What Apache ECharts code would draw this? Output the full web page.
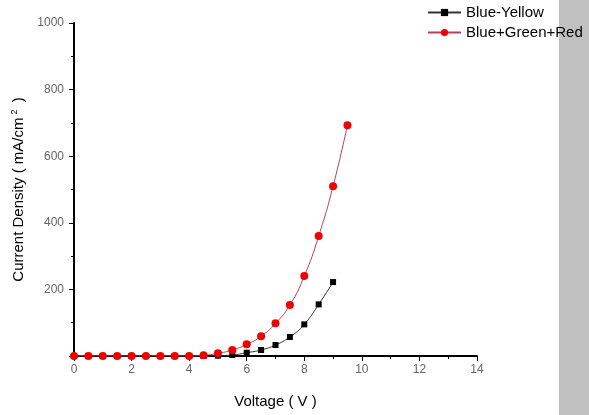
<!DOCTYPE html>
<html>
<head>
<meta charset="utf-8">
<script src="https://cdn.jsdelivr.net/npm/echarts@6/dist/echarts.min.js"></script>
<style>
  html, body { margin: 0; padding: 0; background: #fff; }
  #chart { width: 589px; height: 415px; }
</style>
</head>
<body>
<div id="chart"></div>
<script>
// voltages (V)
const voltage = [0, 0.5, 1, 1.5, 2, 2.5, 3, 3.5, 4, 4.5, 5, 5.5, 6, 6.5, 7, 7.5, 8, 8.5, 9, 9.5]
// current density (mA/cm2)
const blueYellow = [0, 0, 0, 0, 0, 0, 0, 0, 0, 0, 1, 3, 10, 18, 33, 57, 95, 155, 222]
const blueGreenRed = [0, 0, 0, 0, 0, 0, 0, 0, 0, 2, 8, 18, 35, 59, 98, 153, 240, 360, 510, 693]
const seriesNames = ['Blue-Yellow', 'Blue+Green+Red']

function pairs(vals) {
  return vals.map(function (v, i) { return [voltage[i], v] })
}

let myChart = echarts.init(document.getElementById('chart'))
let option = {
  animation: false,
  backgroundColor: '#fff',
  textStyle: { fontFamily: 'Liberation Sans, Arial, sans-serif' },
  graphic: [{
    type: 'rect',
    shape: { x: 559, y: 0, width: 30, height: 415 },
    style: { fill: '#c0c0c0' },
    z: -1
  }],
  legend: {
    orient: 'vertical',
    left: 422,
    top: 0,
    itemWidth: 33,
    itemHeight: 9,
    itemGap: 5,
    data: seriesNames,
    textStyle: { color: '#000', fontSize: 15 }
  },
  grid: { left: 74, right: 112, top: 23, bottom: 59 },
  xAxis: {
    type: 'value',
    min: 0,
    max: 14,
    interval: 2,
    name: 'Voltage ( V )',
    nameLocation: 'middle',
    nameGap: 38,
    nameTextStyle: { color: '#000', fontSize: 15 },
    splitLine: { show: false },
    axisLine: { lineStyle: { color: '#000', width: 2 } },
    axisTick: { length: 5, lineStyle: { color: '#000', width: 1 } },
    minorTick: { show: true, splitNumber: 2, length: 3, lineStyle: { color: '#000' } },
    axisLabel: { color: '#666', fontSize: 12, margin: 8 }
  },
  yAxis: {
    type: 'value',
    min: 0,
    max: 1000,
    interval: 200,
    name: 'Current Density ( mA/cm{sup|2} )',
    nameLocation: 'middle',
    nameGap: 46,
    nameTextStyle: {
      color: '#000',
      fontSize: 15,
      rich: { sup: { fontSize: 9, verticalAlign: 'top', padding: [0, 3, 9, 3] } }
    },
    splitLine: { show: false },
    axisLine: { show: true, lineStyle: { color: '#000', width: 2 } },
    axisTick: { show: true, length: 5, lineStyle: { color: '#000', width: 1 } },
    minorTick: { show: true, splitNumber: 2, length: 3, lineStyle: { color: '#000' } },
    axisLabel: {
      color: '#666',
      fontSize: 12,
      margin: 10,
      formatter: function (v) { return v === 0 ? '' : v }
    }
  },
  series: [
    {
      name: seriesNames[0],
      type: 'line',
      smooth: true,
      symbol: 'rect',
      symbolSize: 6,
      data: pairs(blueYellow),
      itemStyle: { color: '#000' },
      lineStyle: { color: '#333', width: 1 }
    },
    {
      name: seriesNames[1],
      type: 'line',
      smooth: true,
      symbol: 'circle',
      symbolSize: 8,
      data: pairs(blueGreenRed),
      itemStyle: { color: '#f00000' },
      lineStyle: { color: '#b8405a', width: 1 }
    }
  ]
}
myChart.setOption(option)
</script>
</body>
</html>
